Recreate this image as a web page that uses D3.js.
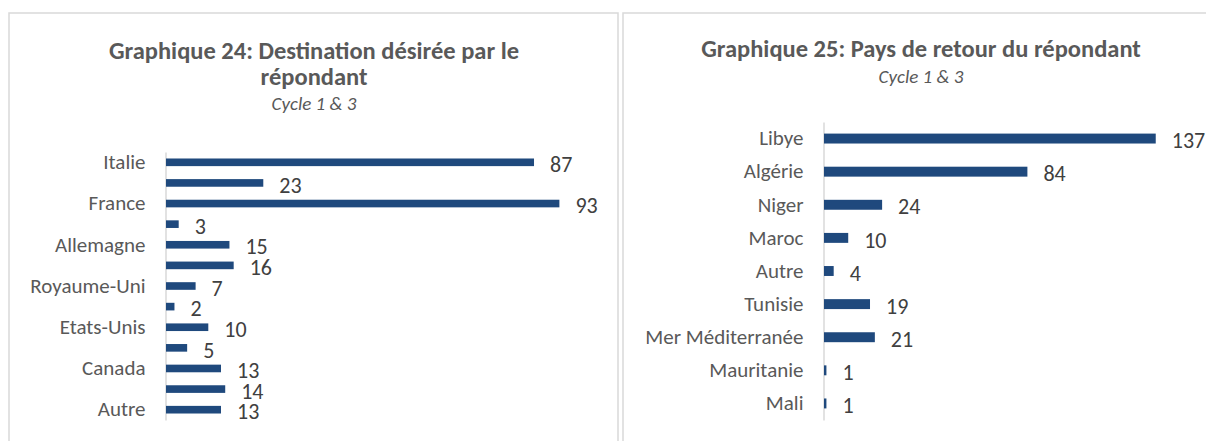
<!DOCTYPE html>
<html>
<head>
<meta charset="utf-8">
<script src="https://cdn.jsdelivr.net/npm/d3@7"></script>
<style>
  body { margin: 0; background: #fff; }
  svg { display: block; font-family: Carlito, Lato, sans-serif; }
</style>
</head>
<body>
<svg id="chart" width="1206" height="441"></svg>
<script>
// chart 24: destination desired (only every other category label is shown in the source)
const destLabels = ["Italie", "", "France", "", "Allemagne", "", "Royaume-Uni", "", "Etats-Unis", "", "Canada", "", "Autre"];
const destValues = [87, 23, 93, 3, 15, 16, 7, 2, 10, 5, 13, 14, 13];

// chart 25: country of return
const retourLabels = ["Libye", "Algérie", "Niger", "Maroc", "Autre", "Tunisie", "Mer Méditerranée", "Mauritanie", "Mali"];
const retourValues = [137, 84, 24, 10, 4, 19, 21, 1, 1];

const barColor = "#1f497d";
const svg = d3.select("#chart");

// panel frames
svg.append("path")
    .attr("d", "M9,441 V13 H618 V441")
    .attr("fill", "none").attr("stroke", "#d9d9d9").attr("stroke-width", 1.5);
svg.append("path")
    .attr("d", "M623,441 V13 H1206")
    .attr("fill", "none").attr("stroke", "#d9d9d9").attr("stroke-width", 1.5);

function drawTitle(cx, lines, subY, subtitle) {
    lines.forEach(function (l) {
        svg.append("text")
            .attr("x", cx).attr("y", l.y)
            .attr("text-anchor", "middle")
            .attr("font-size", 24.5).attr("font-weight", "bold")
            .attr("fill", "#595959")
            .text(l.t);
    });
    svg.append("text")
        .attr("x", cx).attr("y", subY)
        .attr("text-anchor", "middle")
        .attr("font-size", 19).attr("font-style", "italic")
        .attr("fill", "#595959")
        .text(subtitle);
}

function drawBars(labels, values, xDomain, xRange, yRange, padIn, padOut) {
    let idx = d3.range(values.length);
    let x = d3.scaleLinear().domain(xDomain).range(xRange);
    let y = d3.scaleBand().domain(idx).range(yRange)
        .paddingInner(padIn).paddingOuter(padOut);

    let axis = svg.append("g")
        .attr("transform", "translate(" + (xRange[0] - 0.5) + ",0)")
        .call(d3.axisLeft(y).tickSize(0).tickSizeOuter(0).tickPadding(20)
            .tickFormat(function (i) { return labels[i]; }));
    axis.select(".domain").attr("stroke", "#d9d9d9").attr("stroke-width", 1.5);
    axis.selectAll("text")
        .attr("font-family", "Carlito, Lato, sans-serif")
        .attr("font-size", 21).attr("fill", "#595959");

    svg.append("g").selectAll("rect")
        .data(idx).join("rect")
        .attr("x", x(0))
        .attr("y", function (i) { return y(i); })
        .attr("width", function (i) { return x(values[i]) - x(0); })
        .attr("height", y.bandwidth())
        .attr("fill", barColor);

    svg.append("g").selectAll("text")
        .data(idx).join("text")
        .attr("x", function (i) { return x(values[i]) + 16; })
        .attr("y", function (i) { return y(i) + y.bandwidth() / 2 + 2; })
        .attr("dy", "0.35em")
        .attr("font-size", 22).attr("fill", "#404040")
        .text(function (i) { return values[i]; });
}

drawTitle(314, [{ t: "Graphique 24: Destination désirée par le", y: 59 }, { t: "répondant", y: 85 }], 110, "Cycle 1 & 3");
drawBars(destLabels, destValues, [0, 100], [166, 589], [152, 420], 0.63, 0.315);

drawTitle(921, [{ t: "Graphique 25: Pays de retour du répondant", y: 57 }], 83, "Cycle 1 & 3");
drawBars(retourLabels, retourValues, [0, 140], [824, 1163], [122, 420], 0.7, 0.35);
</script>
</body>
</html>
